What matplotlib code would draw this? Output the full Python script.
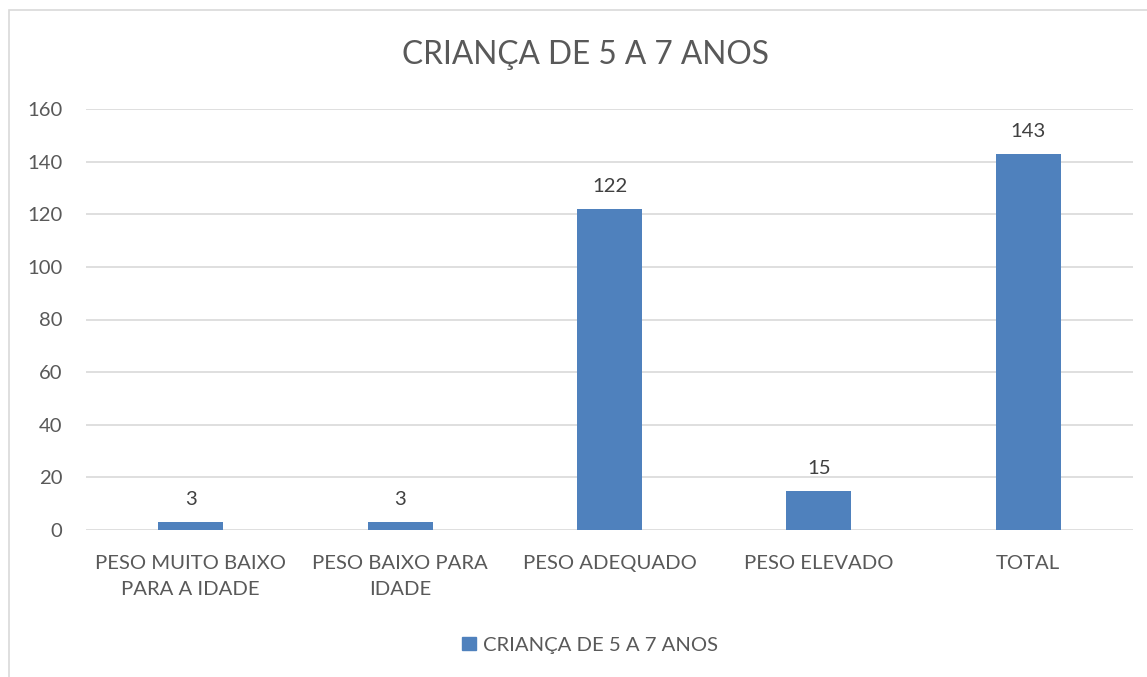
import matplotlib
matplotlib.use("Agg")
import matplotlib.pyplot as plt
from matplotlib.patches import Rectangle, Patch

categories = ["PESO MUITO BAIXO\nPARA A IDADE", "PESO BAIXO PARA\nIDADE", "PESO ADEQUADO", "PESO ELEVADO", "TOTAL"]
values = [3, 3, 122, 15, 143]
series_name = "CRIANÇA DE 5 A 7 ANOS"
title = "CRIANÇA DE 5 A 7 ANOS"
yticks = [0, 20, 40, 60, 80, 100, 120, 140, 160]

plt.rcParams['font.family'] = ['Lato', 'DejaVu Sans']
text_color = "#595959"
bar_color = "#4f81bd"
fs = 14.6

fig = plt.figure(figsize=(11.47, 6.77), dpi=100)
fig.patches.append(Rectangle((9/1147, -0.1), 1.2, 1 - 10/677 + 0.1, transform=fig.transFigure,
                             fill=False, edgecolor="#d9d9d9", linewidth=1.2))
ax = fig.add_axes([86/1147, 1 - 530/677, (1133 - 86)/1147, (530 - 109)/677])

x = list(range(len(categories)))
bars = ax.bar(x, values, width=0.31, color=bar_color, zorder=3, label=series_name)
for xi, v in zip(x, values):
    ax.annotate(str(v), (xi, v), xytext=(0, 10), textcoords="offset points",
                ha="center", va="bottom", fontsize=fs, color="#404040")

ax.set_xlim(-0.5, len(categories) - 0.5)
ax.set_ylim(0, 160)
ax.set_yticks(yticks)
ax.set_yticklabels([str(t) for t in yticks], fontsize=fs, color=text_color)
ax.set_xticks(x)
ax.set_xticklabels(categories, fontsize=fs, color=text_color, linespacing=1.65)
ax.tick_params(axis="both", length=0)
ax.tick_params(axis="x", pad=18)
ax.tick_params(axis="y", pad=17)
ax.grid(axis="y", color="#d9d9d9", linewidth=1.2, zorder=0)
for s in ax.spines.values():
    s.set_visible(False)

fig.text(585/1147, 1 - 55/677, title, ha="center", va="center", fontsize=22.8, color=text_color)

leg = fig.legend(handles=[Patch(color=bar_color, label=series_name)], loc="center",
                 bbox_to_anchor=(590/1147, 1 - 645/677), frameon=False, fontsize=fs,
                 handlelength=0.65, handleheight=0.65, handletextpad=0.35)
for t in leg.get_texts():
    t.set_color(text_color)

fig.savefig("out.png", dpi=100)
